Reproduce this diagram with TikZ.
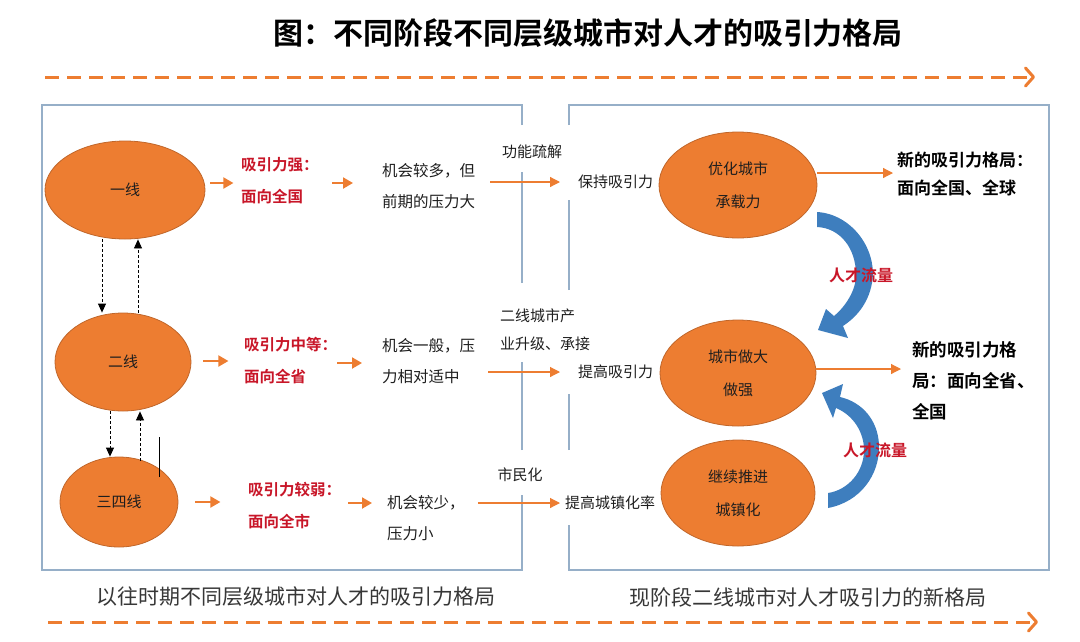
\documentclass[tikz,border=0pt]{standalone}
\usepackage{fontspec}
\setmainfont{Noto Sans CJK SC}[BoldFont={Noto Sans CJK SC Bold}]
\usetikzlibrary{arrows.meta,shapes.geometric,positioning,calc}

\definecolor{chengse}{RGB}{237,125,49}
\definecolor{chengbian}{RGB}{192,102,42}
\definecolor{hongzi}{RGB}{200,22,40}
\definecolor{kuangxian}{RGB}{150,175,200}
\definecolor{lanjian}{RGB}{62,126,190}
\definecolor{heizi}{RGB}{30,30,30}
\definecolor{huizi}{RGB}{55,55,55}

\tikzset{
  city/.style={ellipse,draw=chengbian,line width=0.8pt,fill=chengse,inner sep=0pt,
    align=center,text=heizi,font=\fontsize{15}{33}\selectfont},
  hong/.style={anchor=west,inner sep=1pt,align=left,text=hongzi,
    font=\bfseries\fontsize{15.5}{32}\selectfont},
  hei/.style={anchor=west,inner sep=1pt,align=left,text=heizi,
    font=\fontsize{15.5}{31}\selectfont},
  xiao/.style={inner sep=1pt,align=left,text=heizi,font=\fontsize{15}{28}\selectfont},
  xinju/.style={anchor=west,inner sep=1pt,align=left,text=black,
    font=\bfseries\fontsize{17}{28}\selectfont},
  duan/.style={chengse,line width=2pt,-{Triangle[length=10pt,width=11pt]}},
  chang/.style={chengse,line width=1.2pt,-{Triangle[length=10pt,width=10pt]}},
  xu/.style={black,line width=0.8pt,dash pattern=on 3pt off 2pt,
    -{Triangle[length=9pt,width=8pt]}},
  kuang/.style={kuangxian,line width=1.3pt},
  liu/.style={fill=lanjian,draw=none},
  liuzi/.style={text=hongzi,font=\bfseries\fontsize{16}{18}\selectfont},
  jiantou/.style={chengse,line width=3pt,dash pattern=on 14pt off 8pt,
    -{Straight Barb[length=8pt,width=18pt,line width=3pt,round]}}
}

\begin{document}
\begin{tikzpicture}[x=1pt,y=-1pt]
\useasboundingbox (0,0) rectangle (1080,641);

% title and time arrows
\node[font=\bfseries\fontsize{30}{32}\selectfont,text=black] (t0) at (588,33) {图：不同阶段不同层级城市对人才的吸引力格局};
\draw[jiantou] (45,77) -- (1035,77);
\draw[jiantou] (48,622) -- (1038,622);

% frames
\draw[kuang] (522,125) |- (42,105) -- (42,570) -- (522,570) -- (522,495);
\draw[kuang] (522,450) -- (522,362) (522,283) -- (522,172);
\draw[kuang] (569,125) |- (1049,105) -- (1049,570) -- (569,570) -- (569,525);
\draw[kuang] (569,450) -- (569,394) (569,290) -- (569,200);

% left: cities of each tier
\node[city,minimum width=160pt,minimum height=98pt] (e1) at (125,190) {一线};
\node[city,minimum width=136pt,minimum height=98pt] (e2) at (123,362) {二线};
\node[city,minimum width=118pt,minimum height=90pt] (e3) at (119,502) {三四线};

\draw[xu] ([xshift=-23pt]e1.south) -- ([xshift=-21pt]e2.north);
\draw[xu] ([xshift=15pt]e2.north) -- ([xshift=13pt]e1.south);
\draw[xu] ([xshift=-13pt]e2.south) -- ([xshift=-9pt]e3.north);
\draw[xu] ([xshift=21pt,yshift=-4pt]e3.north) -- ([xshift=17pt]e2.south);
\draw[line width=0.8pt] (159,437) -- (159,477);

\node[hong] (r1) at (240,181) {吸引力强：\\面向全国};
\node[hong] (r2) at (243,361) {吸引力中等：\\面向全省};
\node[hong] (r3) at (247,506) {吸引力较弱：\\面向全市};

\node[hei] (m1) at (381,186) {机会较多，但\\前期的压力大};
\node[hei] (m2) at (381,361) {机会一般，压\\力相对适中};
\node[hei] (m3) at (386,518) {机会较少，\\压力小};

\draw[duan] ([shift={(5,-7)}]e1.east) -- ++(23,0);
\draw[duan] ([shift={(-49,-3)}]m1.west) -- ++(21,0);
\draw[duan] ([shift={(12,-1)}]e2.east) -- ++(25,0);
\draw[duan] ([shift={(-44,2)}]m2.west) -- ++(25,0);
\draw[duan] ([shift={(17,0)}]e3.east) -- ++(25,0);
\draw[duan] ([shift={(-38,-15)}]m3.west) -- ++(24,0);

% links between the two stages
\node[xiao] (f1) at (532,152) {功能疏解};
\node[xiao,anchor=west] (f2) at (499,330) {二线城市产\\业升级、承接};
\node[xiao] (f3) at (520,475) {市民化};

\node[xiao,anchor=west] (k1) at (577,182) {保持吸引力};
\node[xiao,anchor=west] (k2) at (577,372) {提高吸引力};
\node[xiao,anchor=west] (k3) at (564,503) {提高城镇化率};

\draw[chang] ([xshift=14pt]m1.east |- k1.west) -- ([xshift=-17pt]k1.west);
\draw[chang] ([xshift=12pt]m2.east |- k2.west) -- ([xshift=-17pt]k2.west);
\draw[chang] ([xshift=12pt]m3.east |- k3.west) -- ([xshift=-4pt]k3.west);

% right: second-tier cities now
\node[city,minimum width=158pt,minimum height=106pt] (n1) at (738,185) {优化城市\\承载力};
\node[city,minimum width=156pt,minimum height=106pt] (n2) at (738,373) {城市做大\\做强};
\node[city,minimum width=154pt,minimum height=106pt] (n3) at (738,493) {继续推进\\城镇化};

\node[xinju] (g1) at (896,174) {新的吸引力格局：\\面向全国、全球};
\node[xinju,font=\bfseries\fontsize{17.5}{31}\selectfont] (g2) at (911,381) {新的吸引力格\\局：面向全省、\\全国};

\draw[chang,shorten >=3pt] ([yshift=12pt]n1.east) -- ([yshift=12pt]n1.east -| g1.west);
\draw[chang,shorten >=10pt] ([yshift=4pt]n2.east) -- ([yshift=4pt]n2.east -| g2.west);

% talent flow
\fill[liu] (817,212) .. controls (852,214) and (878,250) .. (872,283)
  .. controls (868,305) and (855,318) .. (843,326)
  -- (848,338) -- (818,330) -- (826,309) -- (834,316)
  .. controls (846,306) and (856,290) .. (856,275)
  .. controls (856,248) and (840,228) .. (817,227) -- cycle;
\fill[liu] (828,508) .. controls (860,502) and (880,475) .. (879,445)
  .. controls (878,420) and (862,402) .. (840,397)
  -- (843,384) -- (822,393) -- (833,418) -- (836,408)
  .. controls (853,415) and (864,432) .. (864,450)
  .. controls (864,472) and (848,490) .. (828,493) -- cycle;
\node[liuzi] (l1) at (861,275) {人才流量};
\node[liuzi] (l2) at (875,450) {人才流量};

% captions
\node[text=huizi,font=\fontsize{21}{24}\selectfont] (c1) at (296,597) {以往时期不同层级城市对人才的吸引力格局};
\node[text=huizi,font=\fontsize{21}{24}\selectfont] (c2) at (808,597) {现阶段二线城市对人才吸引力的新格局};
\end{tikzpicture}
\end{document}
